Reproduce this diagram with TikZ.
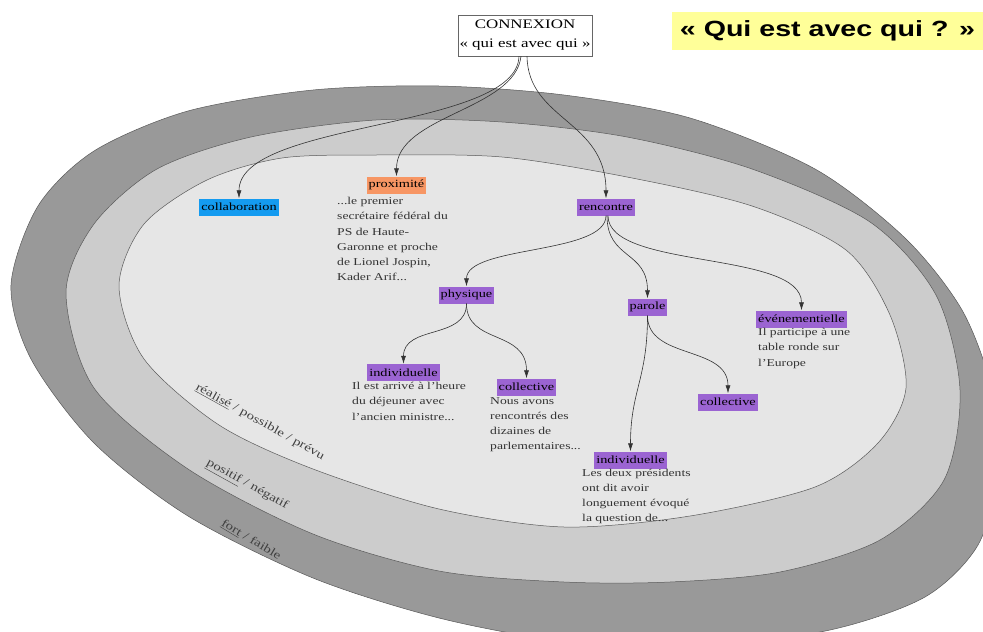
\documentclass[tikz,border=0pt]{standalone}
\usepackage{fontspec}
\setmainfont{Liberation Serif}[FakeStretch=1.3]
\newfontfamily\titrefont{Liberation Sans}[FakeStretch=1.3]
\usetikzlibrary{arrows.meta}

\definecolor{bandefort}{RGB}{153,153,153}
\definecolor{bandepos}{RGB}{204,204,204}
\definecolor{bandereel}{RGB}{230,230,230}
\definecolor{coulrenc}{RGB}{155,100,210}
\definecolor{coulcollab}{RGB}{20,155,240}
\definecolor{coulprox}{RGB}{247,150,100}
\definecolor{titrejaune}{RGB}{255,255,153}

\tikzset{
  type/.style={fill=coulrenc, inner xsep=2pt, inner ysep=0pt, minimum height=17pt,
    font=\fontsize{11}{13}\selectfont, text=black},
  exemple/.style={anchor=north west, align=left, inner sep=0pt,
    font=\fontsize{10.5}{15.3}\selectfont, text=black!80},
  fleche/.style={draw=black!80, line width=0.6pt, -{Latex[length=8pt,width=5pt]}},
  bande/.style={draw=black!65, line width=0.5pt},
  echelle/.style={font=\fontsize{11.5}{13}\selectfont, text=black!75, inner sep=0pt}
}

\begin{document}
\begin{tikzpicture}[x=1pt,y=-1pt]
\useasboundingbox (0,0) rectangle (983,632);
\begin{scope}
\clip (0,0) rectangle (983,632);
\draw[bande, fill=bandefort] plot[smooth cycle] coordinates {(11,285) (38,206) (94,151) (188,111) (313,90) (439,86) (564,95) (690,118) (815,169) (905,238) (962,310) (992,390) (998,470) (978,545) (925,597) (830,630) (700,646) (564,641) (439,618) (313,578) (188,516) (94,443) (31,359)};
\draw[bande, fill=bandepos] plot[smooth cycle] coordinates {(66,293) (94,224) (157,169) (251,137) (376,120) (502,122) (627,137) (752,169) (870,222) (936,295) (960,390) (944,480) (880,540) (780,572) (670,582) (564,582) (439,571) (313,534) (188,469) (94,388)};
\draw[bande, fill=bandereel] plot[smooth cycle] coordinates {(119,286) (144,224) (207,180) (282,158) (376,155) (502,157) (627,177) (752,206) (846,250) (890,315) (906,388) (878,443) (815,487) (690,516) (564,527) (439,509) (313,469) (219,425) (144,359)};
\end{scope}

\node[echelle, rotate=-29] (lblreel) at (260,422) {\underline{réalisé} / possible / prévu};
\node[echelle, rotate=-29] (lblpos) at (247,485) {\underline{positif} / négatif};
\node[echelle, rotate=-31] (lblfort) at (251,540) {\underline{fort} / faible};

\node[fill=titrejaune, minimum width=311pt, minimum height=38pt, inner sep=0pt,
  font=\titrefont\bfseries\fontsize{22}{26}\selectfont] (titre) at (827.5,31) {« Qui est avec qui ? »};
\node[draw=black!60, fill=white, align=center, minimum width=134pt, minimum height=41pt,
  inner sep=1pt, font=\fontsize{13}{19}\selectfont] (cnx) at (525,35.5) {CONNEXION\\« qui est avec qui »};

\node[type, fill=coulcollab] (collab) at (239,207) {collaboration};
\node[type, fill=coulprox] (prox) at (396.5,185) {proximité};
\node[type] (renc) at (606,207) {rencontre};
\node[type] (phys) at (466.5,295) {physique};
\node[type] (parole) at (647.5,307) {parole};
\node[type] (evt) at (801.5,319) {événementielle};
\node[type] (indphys) at (403.5,372.5) {individuelle};
\node[type] (colphys) at (526.5,387) {collective};
\node[type] (colparole) at (728,402) {collective};
\node[type] (indparole) at (630.5,460) {individuelle};

\node[exemple] (exprox) at (337,197) {...le premier\\secrétaire fédéral du\\PS de Haute-\\Garonne et proche\\de Lionel Jospin,\\Kader Arif...};
\node[exemple] (exevt) at (758,328) {Il participe à une\\table ronde sur\\l'Europe};
\node[exemple] (exindphys) at (352,382) {Il est arrivé à l'heure\\du déjeuner avec\\l'ancien ministre...};
\node[exemple] (excolphys) at (490,397) {Nous avons\\rencontrés des\\dizaines de\\parlementaires...};
\node[exemple] (exindparole) at (582,468.5) {Les deux présidents\\ont dit avoir\\longuement évoqué\\la question de...};

\draw[fleche] ([xshift=-6pt]cnx.south) .. controls +(-2,74) and +(0,-78) .. (collab.north);
\draw[fleche] ([xshift=-4pt]cnx.south) .. controls +(-6,54) and +(0,-61) .. (prox.north);
\draw[fleche] ([xshift=2pt]cnx.south) .. controls +(1,64) and +(0,-78) .. (renc.north);
\draw[fleche] (renc.south) .. controls +(0,39) and +(0,-41) .. (phys.north);
\draw[fleche] ([xshift=1pt]renc.south) .. controls +(0,44) and +(0,-48) .. (parole.north);
\draw[fleche] ([xshift=2pt]renc.south) .. controls +(0,54) and +(0,-60) .. (evt.north);
\draw[fleche] (phys.south) .. controls +(0,36) and +(0,-39) .. (indphys.north);
\draw[fleche] (phys.south) .. controls +(0,41) and +(0,-49) .. (colphys.north);
\draw[fleche] (parole.south) .. controls +(0,64) and +(0,-61) .. (indparole.north);
\draw[fleche] (parole.south) .. controls +(0,44) and +(0,-48) .. (colparole.north);
\end{tikzpicture}
\end{document}
